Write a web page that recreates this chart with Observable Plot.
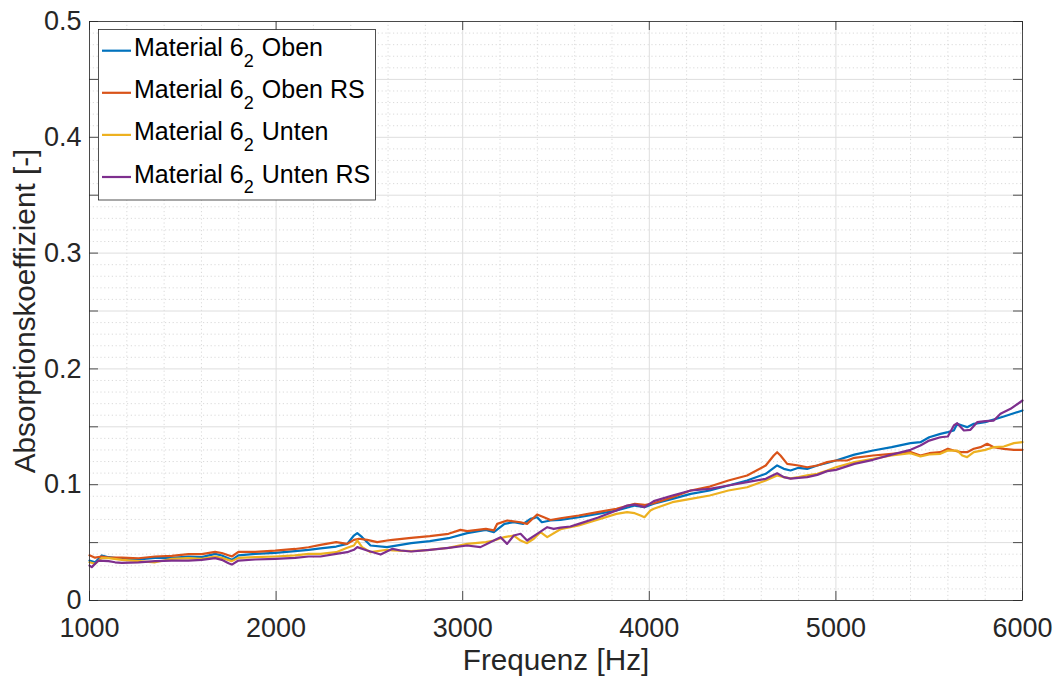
<!DOCTYPE html>
<html><head><meta charset="utf-8">
<script src="https://cdn.jsdelivr.net/npm/d3@7"></script>
<script src="https://cdn.jsdelivr.net/npm/@observablehq/plot@0.6"></script>
<style>body{margin:0;background:#fff}#chart{width:1056px;height:680px}</style>
</head><body><div id="chart"></div>
<script>
// ---- data (frequency [Hz], absorption coefficient [-]) ----
const seriesNames = ["Oben", "Oben RS", "Unten", "Unten RS"];
const seriesColors = ["#0072BD", "#D95319", "#EDB120", "#7E2F8E"];
const legendPrefix = "Material 6";
const legendSub = "2";

const oben = [[1000,.0345],[1030,.033],[1066,.0389],[1102,.0374],[1173,.036],[1263,.0354],[1352,.0368],[1441,.0368],[1530,.038],[1602,.0374],[1673,.0403],[1709,.0389],[1763,.0351],[1798,.0389],[1888,.0403],[1995,.0412],[2102,.0426],[2174,.0437],[2238,.045],[2322,.0466],[2381,.0489],[2417,.0561],[2435,.0582],[2461,.0547],[2506,.0475],[2595,.0461],[2724,.0495],[2824,.0512],[2924,.0538],[3024,.0582],[3124,.061],[3167,.059],[3224,.0662],[3274,.0676],[3324,.0662],[3363,.0705],[3399,.0719],[3424,.0676],[3470,.0691],[3524,.0697],[3622,.0719],[3723,.0748],[3824,.0777],[3922,.082],[3974,.0806],[4024,.0835],[4124,.0878],[4222,.0921],[4324,.095],[4424,.0993],[4524,.1036],[4624,.1094],[4685,.1166],[4721,.1137],[4757,.1123],[4800,.1146],[4846,.1137],[4900,.1166],[4953,.1187],[5000,.1209],[5099,.126],[5199,.1295],[5299,.1324],[5400,.1359],[5453,.1367],[5500,.141],[5560,.1439],[5600,.1454],[5632,.1468],[5650,.1526],[5677,.1511],[5703,.1497],[5739,.1526],[5800,.154],[5900,.1589],[6000,.1641]];

const obenRS = [[1000,.039],[1030,.037],[1066,.038],[1102,.037],[1173,.037],[1263,.0365],[1352,.038],[1441,.0385],[1530,.040],[1602,.040],[1673,.042],[1709,.041],[1763,.038],[1798,.042],[1888,.042],[1995,.043],[2102,.0445],[2174,.046],[2238,.048],[2322,.0504],[2381,.0489],[2417,.0524],[2444,.0533],[2488,.0524],[2542,.0504],[2595,.0518],[2624,.0524],[2724,.0541],[2824,.0556],[2924,.0576],[2988,.061],[3024,.0599],[3124,.0619],[3167,.0605],[3185,.0662],[3238,.0691],[3310,.0676],[3345,.0662],[3399,.0743],[3435,.0719],[3470,.0695],[3524,.071],[3622,.0734],[3723,.0763],[3824,.0792],[3922,.0835],[3974,.0825],[4024,.084],[4124,.0892],[4222,.095],[4324,.0984],[4424,.1036],[4524,.1079],[4624,.1166],[4667,.1252],[4685,.1281],[4703,.1252],[4739,.118],[4800,.1166],[4846,.1151],[4900,.1166],[4953,.1195],[5000,.1209],[5060,.1209],[5099,.1232],[5199,.1252],[5299,.1267],[5400,.1281],[5453,.1252],[5500,.1272],[5560,.1281],[5600,.131],[5632,.1295],[5668,.1281],[5703,.1281],[5739,.131],[5775,.1324],[5811,.1353],[5846,.1324],[5900,.131],[5954,.1301],[6000,.1301]];

const unten = [[1000,.033],[1030,.0317],[1066,.0368],[1102,.0366],[1173,.0351],[1263,.034],[1352,.033],[1441,.036],[1530,.0366],[1602,.036],[1673,.038],[1709,.0368],[1763,.034],[1798,.0368],[1888,.0374],[1995,.038],[2102,.0389],[2174,.0403],[2238,.0403],[2322,.0417],[2381,.0455],[2417,.0475],[2435,.0518],[2461,.0461],[2506,.0417],[2595,.0438],[2624,.0432],[2724,.0426],[2824,.0438],[2924,.0455],[3024,.0489],[3124,.0504],[3167,.0518],[3224,.0547],[3274,.0561],[3310,.0518],[3345,.0495],[3381,.0533],[3417,.059],[3453,.0547],[3524,.0615],[3622,.0648],[3723,.0697],[3824,.0748],[3881,.0763],[3922,.0754],[3953,.0734],[3974,.0719],[4006,.0777],[4024,.0792],[4124,.0849],[4222,.0878],[4324,.0907],[4424,.095],[4524,.0978],[4624,.1036],[4685,.1079],[4721,.1065],[4757,.1055],[4800,.1065],[4846,.108],[4900,.1094],[4953,.1123],[5000,.1151],[5099,.1195],[5199,.1224],[5299,.1252],[5400,.1272],[5453,.1244],[5500,.1261],[5560,.1267],[5600,.1295],[5650,.1295],[5677,.1252],[5703,.1238],[5739,.1281],[5800,.1301],[5846,.1324],[5900,.133],[5954,.1359],[6000,.1367]];

const untenRS = [[1000,.0302],[1012,.0288],[1048,.0345],[1102,.034],[1137,.033],[1173,.0325],[1263,.033],[1352,.034],[1441,.0345],[1530,.0345],[1602,.0351],[1673,.0366],[1709,.0351],[1745,.0322],[1763,.031],[1798,.0345],[1888,.0354],[1995,.036],[2102,.0368],[2174,.038],[2238,.038],[2322,.0403],[2381,.0417],[2417,.0438],[2435,.0461],[2488,.0432],[2560,.0397],[2624,.0446],[2667,.0432],[2724,.0423],[2824,.0438],[2924,.0455],[3024,.0475],[3095,.0461],[3167,.0518],[3203,.0547],[3238,.0489],[3274,.0561],[3310,.0576],[3345,.0518],[3399,.0576],[3453,.0633],[3488,.0619],[3524,.063],[3577,.0639],[3622,.0662],[3723,.0714],[3824,.0777],[3881,.082],[3922,.0829],[3974,.0806],[4024,.0858],[4124,.0907],[4222,.095],[4324,.0964],[4424,.0993],[4524,.1022],[4624,.1051],[4685,.1099],[4721,.1065],[4757,.1052],[4800,.1059],[4846,.1065],[4900,.1085],[4953,.1117],[5000,.1128],[5099,.118],[5199,.1215],[5299,.126],[5400,.1301],[5453,.1338],[5500,.1381],[5560,.141],[5600,.1416],[5632,.1511],[5650,.1531],[5686,.1468],[5721,.1474],[5757,.154],[5800,.1549],[5846,.1554],[5882,.1612],[5936,.1655],[6000,.1727]];

const seriesData = [oben, obenRS, unten, untenRS];

// ---- axes / ticks ----
const xDomain = [1000, 6000];
const yDomain = [0, 0.5];
const xTicks = [1000, 2000, 3000, 4000, 5000, 6000];
const yTicks = [0, 0.05, 0.1, 0.15, 0.2, 0.25, 0.3, 0.35, 0.4, 0.45, 0.5];
const yTickLabels = [0, 0.1, 0.2, 0.3, 0.4, 0.5];
const xMinor = d3.range(1200, 6000, 200).filter(v => v % 1000 !== 0);
const yMinor = d3.range(1, 50).filter(i => i % 5 !== 0).map(i => i / 100);
const xLabel = "Frequenz [Hz]";
const yLabel = "Absorptionskoeffizient [-]";

// ---- layout ----
const W = 1056, H = 680;
const mL = 89, mR = 34, mT = 21, mB = 80;
const pw = W - mL - mR, ph = H - mT - mB;
const tickLen = 9;
const axisColor = "#262626";
const font = "'Liberation Sans', Arial, Helvetica, sans-serif";

const marks = [
  Plot.ruleX(xMinor, {stroke: "#d0d0d0", strokeDasharray: "1.2,2.6", strokeWidth: 0.8}),
  Plot.ruleY(yMinor, {stroke: "#d0d0d0", strokeDasharray: "1.2,2.6", strokeWidth: 0.8}),
  Plot.ruleX(xTicks, {stroke: "#dedede", strokeWidth: 1}),
  Plot.ruleY(yTicks, {stroke: "#dedede", strokeWidth: 1}),
];
seriesData.forEach((data, i) => {
  marks.push(Plot.line(data, {x: d => d[0], y: d => d[1], stroke: seriesColors[i], strokeWidth: 2.2}));
});
marks.push(
  Plot.frame({stroke: axisColor, strokeWidth: 0.8}),
  Plot.ruleX(xTicks, {stroke: axisColor, strokeWidth: 0.8, insetTop: ph - tickLen}),
  Plot.ruleX(xTicks, {stroke: axisColor, strokeWidth: 0.8, insetBottom: ph - tickLen}),
  Plot.ruleY(yTicks, {stroke: axisColor, strokeWidth: 0.8, insetRight: pw - tickLen}),
  Plot.ruleY(yTicks, {stroke: axisColor, strokeWidth: 0.8, insetLeft: pw - tickLen}),
  Plot.axisX(xTicks, {tickSize: 0, tickPadding: 17, fontSize: 27, label: null, tickFormat: d => String(d)}),
  Plot.axisY(yTickLabels, {tickSize: 0, tickPadding: 8, fontSize: 27, label: null, tickFormat: d => String(d)}),
  Plot.text([xLabel], {frameAnchor: "bottom", dy: 60, fontSize: 29.7, lineAnchor: "middle", textAnchor: "middle", fill: axisColor}),
  Plot.text([yLabel], {frameAnchor: "left", dx: -64, rotate: -90, fontSize: 29.7, lineAnchor: "middle", textAnchor: "middle", fill: axisColor})
);

const chart = Plot.plot({
  width: W, height: H,
  marginLeft: mL, marginRight: mR, marginTop: mT, marginBottom: mB,
  x: {domain: xDomain, axis: null},
  y: {domain: yDomain, axis: null},
  style: {fontFamily: font, color: axisColor, background: "white", overflow: "visible"},
  marks
});
document.getElementById("chart").appendChild(chart);

// ---- legend (drawn into the same SVG) ----
const svg = d3.select(chart);
const lg = svg.append("g").attr("font-family", font).attr("font-size", 25)
  .attr("fill", "#000").attr("text-anchor", "start");
const boxX = 98.5, boxY = 29.5, boxW = 277, boxH = 170.5, rowH = 42.1, row0 = 50.7;
lg.append("rect").attr("x", boxX).attr("y", boxY).attr("width", boxW).attr("height", boxH)
  .attr("fill", "white").attr("stroke", axisColor).attr("stroke-width", 0.8);
seriesNames.forEach((name, i) => {
  const cy = row0 + i * rowH;
  lg.append("line").attr("x1", 102).attr("x2", 131).attr("y1", cy).attr("y2", cy)
    .attr("stroke", seriesColors[i]).attr("stroke-width", 2.2);
  const t = lg.append("text").attr("x", 134).attr("y", cy + 5.5).attr("text-anchor", "start");
  t.append("tspan").text(legendPrefix);
  t.append("tspan").attr("font-size", 18).attr("dy", 10.5).text(legendSub);
  t.append("tspan").attr("dy", -10.5).attr("dx", 8).text(name);
});
</script></body></html>
